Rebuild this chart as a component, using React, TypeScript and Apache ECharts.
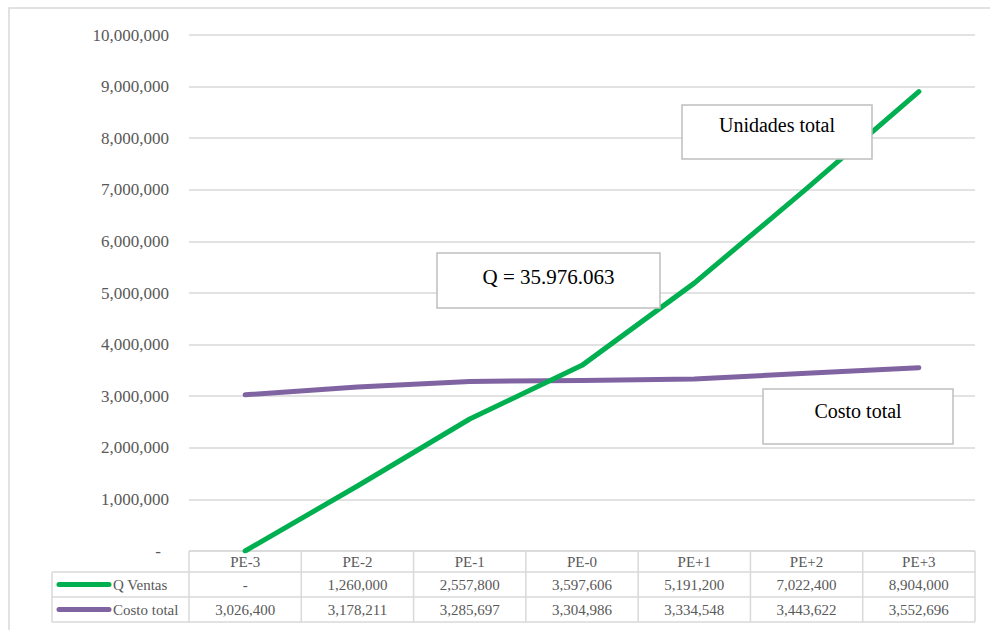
import React, { useEffect, useRef } from "react";
import * as echarts from "echarts";

const categories = ["PE-3", "PE-2", "PE-1", "PE-0", "PE+1", "PE+2", "PE+3"];
const qVentas = [0, 1260000, 2557800, 3597606, 5191200, 7022400, 8904000];
const costoTotal = [3026400, 3178211, 3285697, 3304986, 3334548, 3443622, 3552696];
const seriesNames = ["Q Ventas", "Costo total"];
const seriesColors = ["#00B050", "#8064A2"];
const annotationTexts = ["Unidades total", "Q = 35.976.063", "Costo total"];

const FONT = "'Liberation Serif', 'Times New Roman', serif";

const fmt = (v: number) => (v === 0 ? "-" : v.toLocaleString("en-US"));

export default function App() {
  const ref = useRef<HTMLDivElement>(null);

  useEffect(() => {
    if (!ref.current) return;
    const chart = echarts.init(ref.current, null, { renderer: "svg" });
    const seriesData = [qVentas, costoTotal];
    chart.setOption({
      animation: false,
      backgroundColor: "#ffffff",
      grid: { left: 189, right: 15, top: 35, bottom: 79, containLabel: false },
      xAxis: {
        type: "category",
        data: categories,
        boundaryGap: true,
        axisLine: { show: false },
        axisTick: { show: false },
        axisLabel: {
          margin: 3,
          color: "#595959",
          fontFamily: FONT,
          fontSize: 15,
        },
      },
      yAxis: {
        type: "value",
        min: 0,
        max: 10000000,
        interval: 1000000,
        axisLine: { show: false },
        axisTick: { show: false },
        splitLine: { lineStyle: { color: "#d9d9d9", width: 1.5 } },
        axisLabel: {
          margin: 20,
          color: "#595959",
          fontFamily: FONT,
          fontSize: 17,
          formatter: (v: number) => (v === 0 ? "{z|-}" : v.toLocaleString("en-US")),
          rich: {
            z: { padding: [0, 8, 0, 0], color: "#595959", fontFamily: FONT, fontSize: 17 },
          },
        },
      },
      series: seriesData.map((d, i) => ({
        name: seriesNames[i],
        type: "line",
        data: d,
        symbol: "none",
        z: i === 0 ? 3 : 2,
        lineStyle: { color: seriesColors[i], width: 5, cap: "round", join: "round" },
        itemStyle: { color: seriesColors[i] },
      })),
    });

    const c0 = chart.convertToPixel({ xAxisIndex: 0 }, 0) as number;
    const c1 = chart.convertToPixel({ xAxisIndex: 0 }, 1) as number;
    const bw = c1 - c0;
    const tableLeft = c0 - bw / 2;
    const tableRight = tableLeft + bw * categories.length;
    const yTop = chart.convertToPixel({ yAxisIndex: 0 }, 0) as number;
    const headerH = 21;
    const rowH = 25;
    const legendLeft = 52;
    const yRow1 = yTop + headerH;
    const yRow2 = yRow1 + rowH;
    const yBottom = yRow2 + rowH;
    const lineStyle = { stroke: "#d9d9d9", lineWidth: 1.5 };

    const graphics: any[] = [];
    // outer chart border
    graphics.push({
      type: "rect",
      shape: { x: 9, y: 8, width: 1000, height: 640 },
      style: { fill: "none", stroke: "#d9d9d9", lineWidth: 1.5 },
      silent: true,
      z: 0,
    });
    // horizontal table lines
    graphics.push({ type: "line", shape: { x1: tableLeft, y1: yTop, x2: tableRight, y2: yTop }, style: lineStyle });
    [yRow1, yRow2, yBottom].forEach((y) =>
      graphics.push({ type: "line", shape: { x1: legendLeft, y1: y, x2: tableRight, y2: y }, style: lineStyle })
    );
    // vertical lines
    graphics.push({ type: "line", shape: { x1: legendLeft, y1: yRow1, x2: legendLeft, y2: yBottom }, style: lineStyle });
    for (let i = 0; i <= categories.length; i++) {
      const x = tableLeft + i * bw;
      graphics.push({ type: "line", shape: { x1: x, y1: yTop, x2: x, y2: yBottom }, style: lineStyle });
    }
    // rows
    seriesData.forEach((d, r) => {
      const yc = yRow1 + rowH * r + rowH / 2;
      graphics.push({
        type: "line",
        shape: { x1: 59, y1: yc, x2: 109, y2: yc },
        style: { stroke: seriesColors[r], lineWidth: 5, lineCap: "round" },
      });
      graphics.push({
        type: "text",
        x: 113,
        y: yc,
        style: {
          text: seriesNames[r],
          fill: "#595959",
          font: `15px ${FONT}`,
          textAlign: "left",
          textVerticalAlign: "middle",
        },
      });
      d.forEach((v, i) => {
        graphics.push({
          type: "text",
          x: c0 + i * bw,
          y: yc,
          style: {
            text: fmt(v),
            fill: "#595959",
            font: `15px ${FONT}`,
            textAlign: "center",
            textVerticalAlign: "middle",
          },
        });
      });
    });
    // annotation boxes
    const boxes = [
      { x: 682, y: 105, w: 190, h: 54, ty: 125, fs: 20 },
      { x: 437, y: 253, w: 223, h: 55, ty: 277, fs: 21 },
      { x: 763, y: 389, w: 190, h: 55, ty: 411, fs: 20 },
    ];
    boxes.forEach((b, i) => {
      graphics.push({
        type: "rect",
        shape: { x: b.x, y: b.y, width: b.w, height: b.h },
        style: { fill: "#ffffff", stroke: "#bfbfbf", lineWidth: 1.5 },
        z: 10,
      });
      graphics.push({
        type: "text",
        x: b.x + b.w / 2,
        y: b.ty,
        z: 11,
        style: {
          text: annotationTexts[i],
          fill: "#000000",
          font: `${b.fs}px ${FONT}`,
          textAlign: "center",
          textVerticalAlign: "middle",
        },
      });
    });

    chart.setOption({ graphic: graphics });

    return () => chart.dispose();
  }, []);

  return (
    <div
      ref={ref}
      style={{ position: "fixed", left: 0, top: 0, width: 990, height: 630 }}
    />
  );
}
